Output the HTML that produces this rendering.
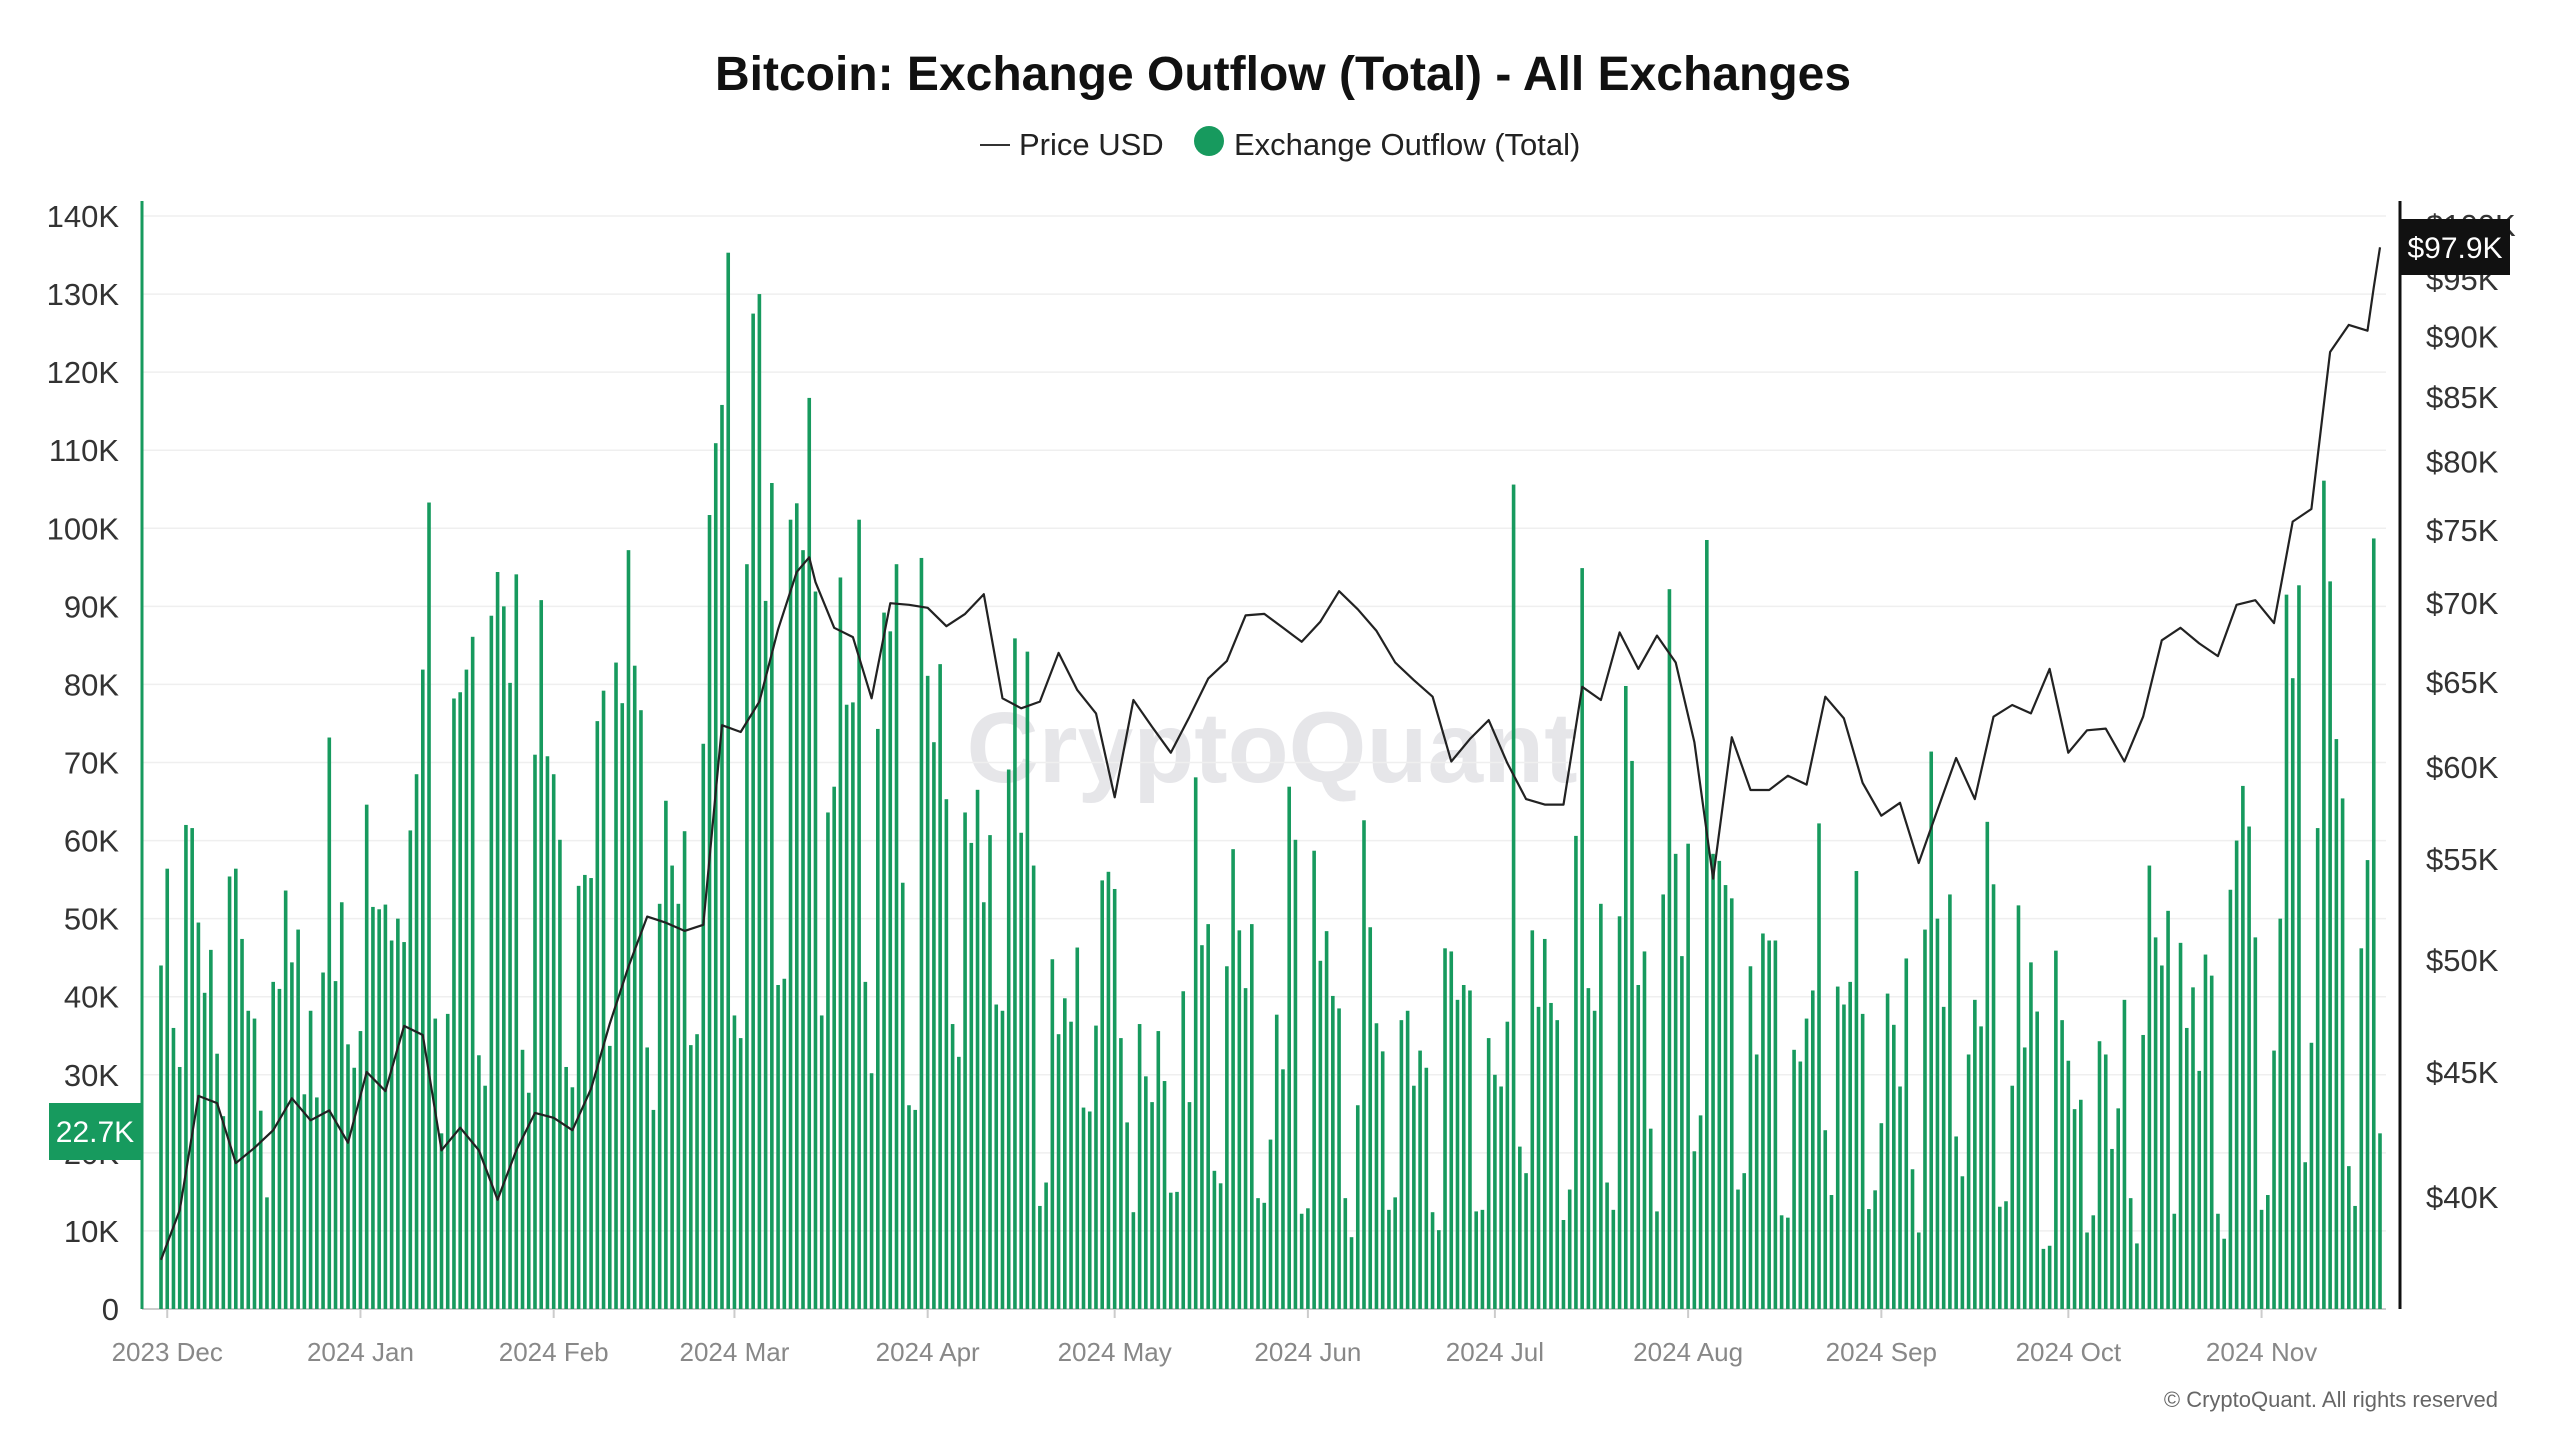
<!DOCTYPE html>
<html>
<head>
<meta charset="utf-8">
<style>
  html,body{margin:0;padding:0;background:#fff;}
  body{width:2560px;height:1440px;overflow:hidden;font-family:"Liberation Sans",sans-serif;}
  svg text{font-family:"Liberation Sans",sans-serif;}
</style>
</head>
<body>
<svg id="chart" width="2560" height="1440" viewBox="0 0 2560 1440" xmlns="http://www.w3.org/2000/svg">
  <text x="1283" y="90" text-anchor="middle" font-size="48" font-weight="bold" fill="#111">Bitcoin: Exchange Outflow (Total) - All Exchanges</text>
  <g>
    <g>
      <line x1="980" y1="145" x2="1010" y2="145" stroke="#333" stroke-width="2"/>
      <text x="1019" y="155" font-size="31" fill="#222">Price USD</text>
    </g>
    <g>
      <circle cx="1209" cy="141" r="15" fill="#179a5e"/>
      <text x="1234" y="155" font-size="31" fill="#222">Exchange Outflow (Total)</text>
    </g>
  </g>
  <text x="1272" y="782" text-anchor="middle" font-size="100" font-weight="bold" fill="#e2e2e6" opacity="0.85">CryptoQuant</text>
  <g id="grid"></g>
  <g id="yleft"></g>
  <g id="yright"></g>
  <g id="xaxis"></g>
  <g id="bars"></g>
  <path id="priceLine" fill="none" stroke="#222" stroke-width="2.2" stroke-linejoin="round"/>
  <line x1="142" y1="201" x2="142" y2="1309" stroke="#179a5e" stroke-width="3"/>
  <line x1="2400" y1="201" x2="2400" y2="1309" stroke="#111" stroke-width="3"/>
  <g>
    <rect x="2400" y="219" width="110" height="56" fill="#111"/>
    <text x="2455" y="258" text-anchor="middle" font-size="30" fill="#fff">$97.9K</text>
  </g>
  <g>
    <rect x="49" y="1103" width="93" height="57" fill="#179a5e"/>
    <text x="95" y="1142" text-anchor="middle" font-size="30" fill="#fff">22.7K</text>
  </g>
  <text x="2498" y="1407" text-anchor="end" font-size="22" fill="#666">© CryptoQuant. All rights reserved</text>
</svg>
<script>
const outflowK = [
44,56.4,36,31,62,61.6,49.5,40.5,46,32.7,
24.7,55.4,56.4,47.4,38.2,37.2,25.4,14.3,41.9,41,
53.6,44.4,48.6,27.5,38.2,27.1,43.1,73.2,42,52.1,
33.9,30.9,35.6,64.6,51.5,51.2,51.8,47.2,50,47,
61.3,68.5,81.9,103.3,37.2,22.5,37.8,78.2,79,81.9,
86.1,32.5,28.6,88.8,94.4,90,80.2,94.1,33.2,27.7,
71,90.8,70.8,68.5,60.1,31,28.4,54.2,55.6,55.2,
75.3,79.2,33.7,82.8,77.6,97.2,82.4,76.7,33.5,25.5,
51.9,65.1,56.8,51.9,61.2,33.8,35.2,72.4,101.7,110.9,
115.8,135.3,37.6,
34.7,95.4,127.5,130,90.7,105.8,41.5,42.3,101.1,103.2,
97.2,116.7,91.9,37.6,63.6,66.9,93.7,77.4,77.7,101.1,
41.9,30.2,74.3,89.2,86.8,95.4,54.6,26.1,25.5,96.2,
81.1,72.6,82.6,65.3,36.5,32.3,63.6,59.7,66.5,52.1,
60.7,39,38.2,69.1,85.9,61,84.2,56.8,13.2,16.2,
44.8,35.2,39.8,36.8,46.3,25.8,25.3,36.3,54.9,56,
53.8,34.7,23.9,12.4,36.5,29.8,26.5,35.6,29.2,14.9,
15,40.7,26.5,68.1,46.6,49.3,17.7,16.1,43.9,58.9,
48.5,41.1,49.3,14.2,13.6,21.7,37.7,30.7,66.9,60.1,
12.2,12.9,58.7,
44.6,48.4,40.1,38.5,14.2,9.2,26.1,62.6,48.9,36.6,
33,12.7,14.3,37,38.2,28.6,33.1,30.9,12.4,10.1,
46.2,45.8,39.6,41.5,40.8,12.5,12.7,34.7,30,28.5,
36.8,105.6,20.8,17.4,48.5,38.7,47.4,39.2,37,11.4,
15.3,60.6,94.9,41.1,38.2,51.9,16.2,12.7,50.3,79.8,
70.2,41.5,45.8,23.1,12.5,53.1,92.2,58.3,45.2,59.6,
20.2,24.8,98.5,58.3,57.4,54.3,52.6,15.3,17.4,43.9,
32.6,48.1,47.2,47.2,12,11.7,33.2,31.7,37.2,40.8,
62.2,22.9,14.6,41.3,39,41.9,56.1,37.8,12.8,15.2,
23.8,40.4,36.4,
28.5,44.9,17.9,9.8,48.6,71.4,50,38.7,53.1,22.1,
17,32.6,39.6,36.2,62.4,54.4,13.1,13.8,28.6,51.7,
33.5,44.4,38.1,7.7,8.1,45.9,37,31.8,25.6,26.8,
9.8,12,34.3,32.6,20.5,25.7,39.6,14.2,8.4,35.1,
56.8,47.6,44,51,12.2,46.9,36,41.2,30.5,45.4,
42.7,12.2,9,53.7,60,67,61.8,47.6,12.7,14.6,
33.1,50,91.5,80.8,92.7,18.8,34.1,61.6,106.1,93.2,
73,65.4,18.3,13.2,46.2,57.5,98.7,22.5
];
const priceDays = [0,3,6,9,12,15,18,21,24,27,30,33,36,39,42,45,48,51,54,57,60,63,66,69,72,75,78,81,84,87,90,93,96,99,102,104,105,108,111,114,117,120,123,126,129,132,135,138,141,144,147,150,153,156,159,162,165,168,171,174,177,180,183,186,189,192,195,198,201,204,207,210,213,216,219,222,225,228,231,234,237,240,243,246,249,252,255,258,261,264,267,270,273,276,279,282,285,288,291,294,297,300,303,306,309,312,315,318,321,324,327,330,333,336,339,342,345,348,351,354,355,356];
const priceK = [37.7,39.5,44.0,43.7,41.3,41.9,42.6,43.9,43.0,43.4,42.1,45.0,44.2,47.0,46.6,41.8,42.7,41.8,39.9,41.8,43.3,43.1,42.6,44.3,47.1,49.7,52.1,51.8,51.4,51.7,62.4,62.0,63.8,68.3,72.1,73.1,71.4,68.4,67.8,64.0,70.0,69.9,69.7,68.5,69.3,70.6,64.0,63.4,63.8,66.8,64.5,63.1,58.3,63.9,62.3,60.8,62.9,65.2,66.3,69.2,69.3,68.4,67.5,68.8,70.8,69.6,68.2,66.2,65.1,64.1,60.3,61.6,62.7,60.2,58.2,57.9,57.9,64.7,63.9,68.1,65.8,67.9,66.2,61.4,54.0,61.7,58.7,58.7,59.5,59.0,64.1,62.8,59.1,57.3,58.0,54.8,57.6,60.5,58.2,62.9,63.6,63.1,65.8,60.8,62.1,62.2,60.3,62.9,67.6,68.4,67.4,66.6,69.9,70.2,68.7,75.6,76.5,88.7,91.0,90.5,94.3,97.9];
const leftTicks = [0,10,20,30,40,50,60,70,80,90,100,110,120,130,140];
const rightTicks = [40,45,50,55,60,65,70,75,80,85,90,95,100];
const monthLabels = ["2023 Dec","2024 Jan","2024 Feb","2024 Mar","2024 Apr","2024 May","2024 Jun","2024 Jul","2024 Aug","2024 Sep","2024 Oct","2024 Nov"];
const monthDays = [1,32,63,92,123,153,184,214,245,276,306,337];

const NS="http://www.w3.org/2000/svg";
const X0=161, X1=2380, Y0=1309, YTOP=216;
const nDays = outflowK.length;
function xScale(d){ return X0 + d*(X1-X0)/(nDays-1); }
function yLeft(v){ return Y0 - v*(Y0-YTOP)/140; }
function yRight(p){ return 1197 - 1061*Math.log(p/40); }
function mk(tag, attrs, parent){ const e=document.createElementNS(NS,tag); for(const k in attrs) e.setAttribute(k,attrs[k]); parent.appendChild(e); return e; }

const grid=document.getElementById('grid'), yl=document.getElementById('yleft'), yr=document.getElementById('yright'), xa=document.getElementById('xaxis'), bars=document.getElementById('bars');

leftTicks.forEach(t=>{
  const y=yLeft(t);
  const g=mk('line',{x1:142,x2:2386,y1:y,y2:y,stroke:t===0?'#ccc':'#efefef','stroke-width':t===0?2:1.5},grid);
  
  
  const tx=mk('text',{x:119,y:y+11,'text-anchor':'end','font-size':31,fill:'#333'},yl);
  tx.textContent = t===0 ? '0' : t+'K';
  
  
});
rightTicks.forEach(t=>{
  const tx=mk('text',{x:2426,y:yRight(t)+11,'font-size':31,fill:'#333'},yr);
  tx.textContent='$'+t+'K';
  
  
});
monthLabels.forEach((m,i)=>{
  const x=xScale(monthDays[i]);
  const tk=mk('line',{x1:x,x2:x,y1:1309,y2:1318,stroke:'#ccc','stroke-width':2},xa);
  
  
  const tx=mk('text',{x:x,y:1361,'text-anchor':'middle','font-size':26,fill:'#888'},xa);
  tx.textContent=m;
  
  
});
outflowK.forEach((v,i)=>{
  const x=xScale(i), y=yLeft(v);
  const r=mk('rect',{x:x-1.8,y:y,width:3.6,height:Y0-y,fill:'#179a5e'},bars);
  
  
});
let d='';
priceDays.forEach((day,i)=>{ d+=(i?'L':'M')+xScale(day).toFixed(1)+' '+yRight(priceK[i]).toFixed(1)+' '; });
document.getElementById('priceLine').setAttribute('d',d);
</script>
</body>
</html>
